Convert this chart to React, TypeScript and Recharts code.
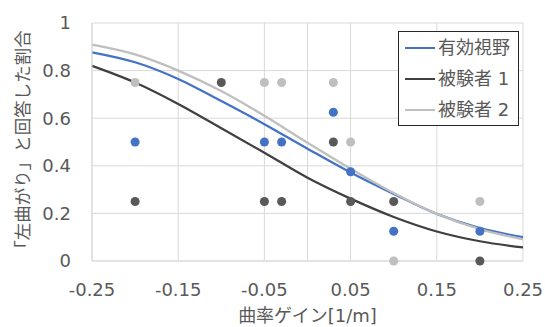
import {
  ComposedChart, Scatter, Line, XAxis, YAxis, CartesianGrid, ReferenceLine, Legend, ZAxis,
} from "recharts";

// x positions of the fitted curves and the values
const curveX = [-0.25, -0.2, -0.15, -0.1, -0.05, 0, 0.05, 0.1, 0.15, 0.2, 0.25];
const curveAll = [0.877, 0.835, 0.765, 0.672, 0.575, 0.472, 0.372, 0.282, 0.198, 0.138, 0.1];
const curveS1 = [0.82, 0.75, 0.66, 0.558, 0.455, 0.35, 0.262, 0.185, 0.124, 0.083, 0.057];
const curveS2 = [0.909, 0.868, 0.8, 0.714, 0.61, 0.497, 0.388, 0.286, 0.198, 0.134, 0.091];

// measured answers
const allX = [-0.2, -0.05, -0.03, 0.03, 0.05, 0.1, 0.2];
const allY = [0.5, 0.5, 0.5, 0.625, 0.375, 0.125, 0.125];
const s1X = [-0.2, -0.1, -0.05, -0.03, 0.03, 0.05, 0.1, 0.2];
const s1Y = [0.25, 0.75, 0.25, 0.25, 0.5, 0.25, 0.25, 0];
const s2X = [-0.2, -0.05, -0.03, 0.03, 0.05, 0.1, 0.2];
const s2Y = [0.75, 0.75, 0.75, 0.75, 0.5, 0, 0.25];

const xTicks = [-0.25, -0.15, -0.05, 0.05, 0.15, 0.25];
const yTicks = [0, 0.2, 0.4, 0.6, 0.8, 1];
const seriesNames = ["有効視野", "被験者 1", "被験者 2"];

const BLUE = "#4472c4";
const DARK = "#404040";
const DARK_DOT = "#595959";
const LIGHT = "#bfbfbf";
const FONT = "'DejaVu Sans', 'Noto Sans CJK JP', sans-serif";

const toPoints = (xs: number[], ys: number[]) => xs.map((x, i) => ({ x, y: ys[i] }));

const legendColors = [BLUE, DARK, LIGHT];

function renderLegend() {
  return (
    <div
      style={{
        width: 121, height: 95, boxSizing: "border-box", border: "1px solid #262626",
        background: "#fff", paddingTop: 0, fontFamily: FONT,
      }}
    >
      {seriesNames.map((name, i) => (
        <div key={name} style={{ display: "flex", alignItems: "center", height: 31.3 }}>
          <div style={{ width: 30, height: 2.25, background: legendColors[i], marginLeft: 6 }} />
          <span style={{ marginLeft: 3, fontSize: 18, color: "#595959", lineHeight: 1 }}>{name}</span>
        </div>
      ))}
    </div>
  );
}

export default function App() {
  return (
    <div style={{ position: "fixed", left: 0, top: 0, background: "#fff" }}>
      <ComposedChart
        width={545}
        height={327}
        margin={{ top: 23, right: 22, bottom: 0, left: 0 }}
        style={{ fontFamily: FONT }}
      >
        <CartesianGrid stroke="#d9d9d9" strokeWidth={1} />
        <XAxis
          type="number"
          dataKey="x"
          domain={[-0.25, 0.25]}
          ticks={xTicks}
          height={66}
          tickSize={0}
          tickMargin={22}
          axisLine={{ stroke: "#d9d9d9" }}
          tick={{ fontSize: 18, fill: "#595959", fontFamily: FONT }}
          label={{
            content: () => (
              <text x={307.5} y={315} textAnchor="middle" dominantBaseline="central"
                fontSize={18} fill="#595959" fontFamily={FONT}>
                曲率ゲイン[1/m]
              </text>
            ),
          }}
        />
        <YAxis
          type="number"
          dataKey="y"
          domain={[0, 1]}
          ticks={yTicks}
          width={92}
          tickSize={0}
          tickMargin={21}
          axisLine={{ stroke: "#d9d9d9" }}
          tick={{ fontSize: 18, fill: "#595959", fontFamily: FONT }}
          label={{
            content: () => (
              <text x={22.5} y={144} textAnchor="middle" dominantBaseline="central"
                transform="rotate(-90, 22.5, 144)" fontSize={17.5} fill="#595959" fontFamily={FONT}>
                「左曲がり」と回答した割合
              </text>
            ),
          }}
        />
        <ZAxis range={[64, 64]} />
        <ReferenceLine x={0} stroke="#d9d9d9" strokeWidth={1} />
        <Scatter data={toPoints(allX, allY)} fill={BLUE} isAnimationActive={false} legendType="none" />
        <Scatter data={toPoints(s1X, s1Y)} fill={DARK_DOT} isAnimationActive={false} legendType="none" />
        <Scatter data={toPoints(s2X, s2Y)} fill={LIGHT} isAnimationActive={false} legendType="none" />
        <Line data={toPoints(curveX, curveAll)} dataKey="y" type="monotone" stroke={BLUE}
          strokeWidth={2.25} dot={false} activeDot={false} isAnimationActive={false} name={seriesNames[0]} />
        <Line data={toPoints(curveX, curveS1)} dataKey="y" type="monotone" stroke={DARK}
          strokeWidth={2.25} dot={false} activeDot={false} isAnimationActive={false} name={seriesNames[1]} />
        <Line data={toPoints(curveX, curveS2)} dataKey="y" type="monotone" stroke={LIGHT}
          strokeWidth={2.25} dot={false} activeDot={false} isAnimationActive={false} name={seriesNames[2]} />
        <Legend
          layout="vertical"
          align="center"
          verticalAlign="middle"
          content={renderLegend}
          wrapperStyle={{ left: 398, top: 31, width: 121, height: 95 }}
        />
      </ComposedChart>
    </div>
  );
}
